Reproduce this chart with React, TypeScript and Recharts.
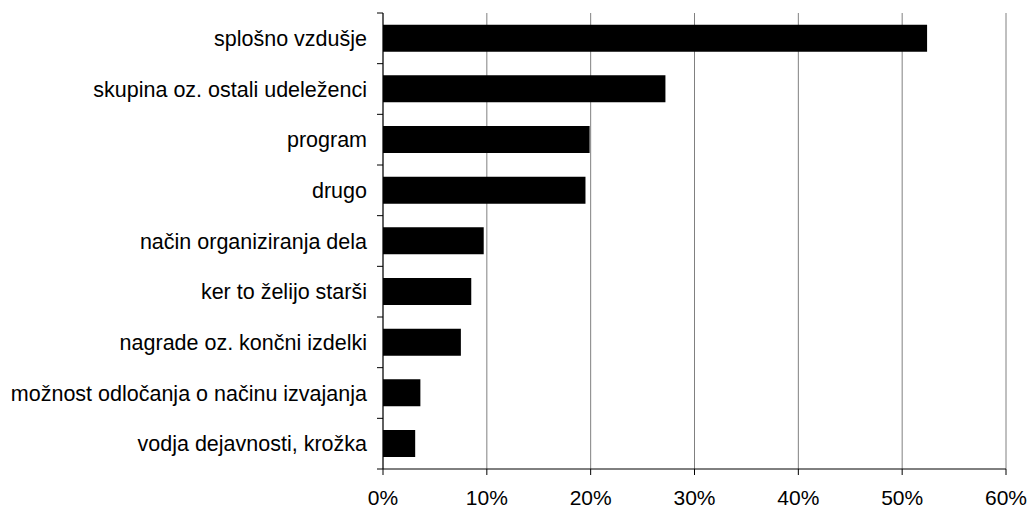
import React from 'react';
import { BarChart, Bar, XAxis, YAxis, CartesianGrid } from 'recharts';

const categories = [
  'splošno vzdušje',
  'skupina oz. ostali udeleženci',
  'program',
  'drugo',
  'način organiziranja dela',
  'ker to želijo starši',
  'nagrade oz. končni izdelki',
  'možnost odločanja o načinu izvajanja',
  'vodja dejavnosti, krožka',
];
const shares = [52.4, 27.2, 19.9, 19.5, 9.7, 8.5, 7.5, 3.6, 3.1];
const xTicks = [0, 10, 20, 30, 40, 50, 60];

const data = categories.map((label, i) => ({ label, value: shares[i] }));

const W = 1029;
const H = 508;
const MARGIN = { top: 13, right: 23, left: 0, bottom: 0 };
const Y_WIDTH = 383;
const X_HEIGHT = 39;
const PLOT_H = H - MARGIN.top - MARGIN.bottom - X_HEIGHT;
const BAND = PLOT_H / categories.length;
const FONT = '"Liberation Sans", Arial, sans-serif';

// category labels, with the tick marks drawn on the band edges instead of centres
function CategoryTick(props: any) {
  const { x, y, payload, index } = props;
  const axisX = x + 16;
  return (
    <g>
      <text x={x} y={y} dy="0.35em" textAnchor="end" fill="#000" fontSize={21.5} fontFamily={FONT}>
        {payload.value}
      </text>
      <line x1={axisX - 6} x2={axisX} y1={y - BAND / 2} y2={y - BAND / 2} stroke="#000" />
      {index === categories.length - 1 && (
        <line x1={axisX - 6} x2={axisX} y1={y + BAND / 2} y2={y + BAND / 2} stroke="#000" />
      )}
    </g>
  );
}

export default function App() {
  return (
    <div style={{ position: 'absolute', left: 0, top: 0, background: '#fff' }}>
      <BarChart width={W} height={H} data={data} layout="vertical" margin={MARGIN} barCategoryGap="23%">
        <CartesianGrid horizontal={false} stroke="#808080" strokeWidth={1} />
        <XAxis
          type="number"
          domain={[0, 60]}
          ticks={xTicks}
          tickFormatter={(v) => `${v}%`}
          height={X_HEIGHT}
          tickSize={6}
          tickMargin={15}
          axisLine={{ stroke: '#000' }}
          tickLine={{ stroke: '#000' }}
          tick={{ fill: '#000', fontSize: 21, fontFamily: FONT }}
          interval={0}
        />
        <XAxis
          xAxisId="top"
          orientation="top"
          type="number"
          domain={[0, 60]}
          height={0}
          tick={false}
          tickLine={false}
          axisLine={{ stroke: '#a0a0a0' }}
        />
        <YAxis
          type="category"
          dataKey="label"
          width={Y_WIDTH}
          tickSize={6}
          tickMargin={10}
          tickLine={false}
          axisLine={{ stroke: '#000' }}
          tick={<CategoryTick />}
          interval={0}
        />
        <Bar dataKey="value" fill="#000" isAnimationActive={false} />
      </BarChart>
    </div>
  );
}
